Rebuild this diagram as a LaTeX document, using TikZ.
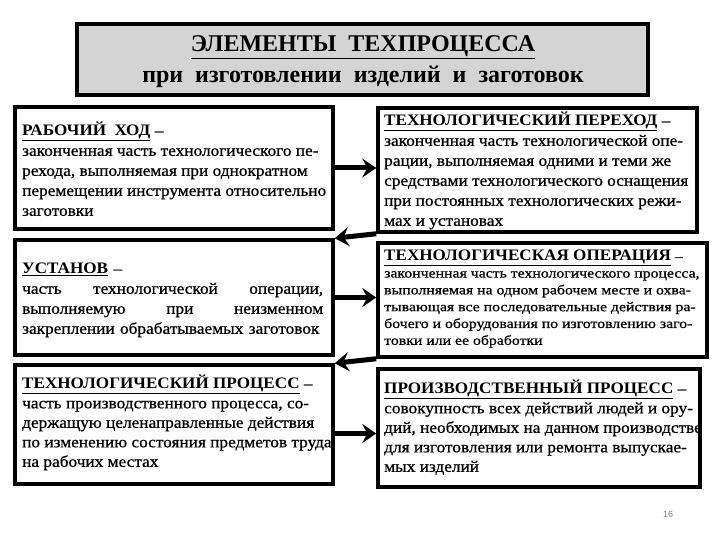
\documentclass[tikz,border=0pt]{standalone}
\usepackage{fontspec}
\setmainfont{Liberation Serif}
\newfontfamily\bodyf[FakeStretch=1.08, FakeBold=0.8]{Liberation Serif}
\newfontfamily\bodyg[FakeStretch=1.17, FakeBold=0.8]{Liberation Serif}
\newfontfamily\headf[FakeStretch=1.07]{Liberation Serif}
\newfontfamily\pagef{Liberation Sans}
\usetikzlibrary{arrows.meta,fit}
\definecolor{titlegray}{HTML}{D4D4D4}
\tikzset{
  frame/.style={draw=black, line width=3.5pt, fill=white, inner sep=0pt},
  titleframe/.style={draw=black, line width=4pt, fill=titlegray, inner sep=0pt},
  txt/.style={anchor=north west, align=left, inner sep=0pt},
  bodyA/.style={font=\bodyf\fontsize{16}{20}\selectfont},
  bodyB/.style={font=\bodyg\fontsize{13.5}{16.8}\selectfont},
  arr/.style={line width=5pt, -{Stealth[length=14pt,width=19pt,inset=5pt]}},
  ttl/.style={font=\bfseries\fontsize{24}{28}\selectfont, inner sep=0pt}
}
\newcommand{\hd}[1]{{\headf\bfseries\fontsize{16}{20}\selectfont\underline{#1}}}
\begin{document}
\begin{tikzpicture}[x=1pt,y=-1pt]
\useasboundingbox (0,0) rectangle (720,540);
% title
\draw[titleframe] (77,24) rectangle (648,95);
\node[ttl] (t1) at (363,47) {\underline{ЭЛЕМЕНТЫ\ \ ТЕХПРОЦЕССА}};
\node[ttl] (t2) at (363,77) {при\ \ изготовлении\ \ изделий\ \ и\ \ заготовок};
% boxes
\node[frame, fit={(15,107) (333,229)}, inner sep=0pt] (l1) {};
\node[frame, fit={(378,108) (697,232)}, inner sep=0pt] (r1) {};
\node[frame, fit={(15,240) (333,355)}, inner sep=0pt] (l2) {};
\node[frame, fit={(378,243) (707,357)}, inner sep=0pt] (r2) {};
\node[frame, fit={(15,365) (333,484)}, inner sep=0pt] (l3) {};
\node[frame, fit={(378,369) (700,487)}, inner sep=0pt] (r3) {};
% texts
\node[txt, bodyA] (l1t) at (22,122) {\hd{РАБОЧИЙ\ \ ХОД} –\\
законченная часть технологического пе-\\
рехода, выполняемая при однократном\\
перемещении инструмента относительно\\
заготовки};
\node[txt, bodyA] (r1t) at (384,112) {\hd{ТЕХНОЛОГИЧЕСКИЙ ПЕРЕХОД} –\\
законченная часть технологической опе-\\
рации, выполняемая одними и теми же\\
средствами технологического оснащения\\
при постоянных технологических режи-\\
мах и установах};
\node[txt, bodyA, text width=301pt] (l2t) at (22,263) {\hd{УСТАНОВ} –\\
часть\hfill технологической\hfill операции,\\
выполняемую\hfill при\hfill неизменном\hspace*{4pt}\\
закреплении обрабатываемых заготовок};
\node[txt, bodyB] (r2t) at (384,250) {\hd{ТЕХНОЛОГИЧЕСКАЯ ОПЕРАЦИЯ} –\\
законченная часть технологического процесса,\\
выполняемая на одном рабочем месте и охва-\\
тывающая все последовательные действия ра-\\
бочего и оборудования по изготовлению заго-\\
товки или ее обработки};
\node[txt, bodyA, font=\bodyf\fontsize{16}{19.5}\selectfont] (l3t) at (22,375) {\hd{ТЕХНОЛОГИЧЕСКИЙ ПРОЦЕСС} –\\
часть производственного процесса, со-\\
держащую целенаправленные действия\\
по изменению состояния предметов труда\\
на рабочих местах};
\node[txt, bodyA, font=\bodyf\fontsize{16}{19.5}\selectfont] (r3t) at (384,380) {\hd{ПРОИЗВОДСТВЕННЫЙ ПРОЦЕСС} –\\
совокупность всех действий людей и ору-\\
дий, необходимых на данном производстве\\
для изготовления или ремонта выпускае-\\
мых изделий};
% arrows
\draw[arr] (l1.east) -- (r1.west |- l1.east);
\draw[arr] (r1.south west) -- (l2.north east);
\draw[arr] (l2.east) -- (r2.west |- l2.east);
\draw[arr] (r2.south west) -- (l3.north east);
\coordinate (a3) at ([yshift=-9pt]l3.east);
\draw[arr] (a3) -- (r3.west |- a3);
% page number
\node[font=\pagef\fontsize{9}{10}\selectfont, text=gray] (pg) at (668,514) {16};
\end{tikzpicture}
\end{document}
